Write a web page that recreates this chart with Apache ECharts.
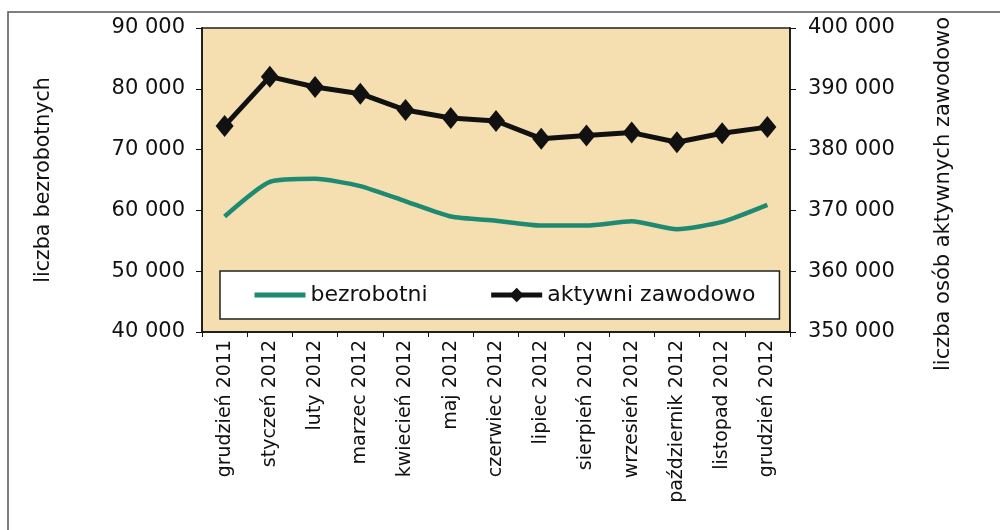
<!DOCTYPE html>
<html>
<head>
<meta charset="utf-8">
<script src="https://cdn.jsdelivr.net/npm/echarts@6/dist/echarts.min.js"></script>
<style>
  html, body { margin: 0; padding: 0; background: #fff; }
  #chart { width: 1000px; height: 530px; }
</style>
</head>
<body>
<div id="chart"></div>
<script>
// miesiące
var months = ['grudzień 2011', 'styczeń 2012', 'luty 2012', 'marzec 2012', 'kwiecień 2012', 'maj 2012',
	'czerwiec 2012', 'lipiec 2012', 'sierpień 2012', 'wrzesień 2012', 'październik 2012', 'listopad 2012', 'grudzień 2012'];

// liczba bezrobotnych (oś lewa)
var bezrobotni = [59000, 64700, 65200, 64000, 61500, 59000, 58300, 57500, 57500, 58200, 56900, 58100, 60900];

// liczba osób aktywnych zawodowo (oś prawa)
var aktywni = [383900, 392000, 390300, 389200, 386500, 385200, 384700, 381800, 382300, 382800, 381200, 382700, 383700];

var leftTicks = [40000, 90000, 10000];
var rightTicks = [350000, 400000, 10000];

function fmt(v) {
	return String(v).replace(/\B(?=(\d{3})+(?!\d))/g, ' ');
}

var font = 'DejaVu Sans';
var myChart = echarts.init(document.getElementById('chart'));

var option = {
	animation: false,
	textStyle: { fontFamily: font, color: '#111' },
	graphic: [{
		type: 'rect',
		shape: { x: 8, y: 12, width: 1100, height: 700 },
		style: { fill: 'none', stroke: '#555', lineWidth: 1.5 },
		z: -10
	}],
	grid: {
		left: 202,
		right: 210,
		top: 28,
		bottom: 198,
		show: true,
		backgroundColor: '#f5deb0',
		borderColor: '#222',
		borderWidth: 1.5
	},
	legend: {
		left: 220,
		top: 271,
		backgroundColor: '#fff',
		borderColor: '#222',
		borderWidth: 1.5,
		padding: [13, 24, 13, 32],
		itemGap: 61,
		itemWidth: 51,
		itemHeight: 18,
		textStyle: { fontFamily: font, fontSize: 22, color: '#111' },
		data: [
			{ name: 'bezrobotni', itemStyle: { opacity: 0 }, lineStyle: { width: 5 } },
			{ name: 'aktywni zawodowo', lineStyle: { width: 5 } }
		]
	},
	xAxis: {
		type: 'category',
		data: months,
		axisLine: { lineStyle: { color: '#111', width: 1.5 } },
		axisTick: { show: true, length: 5, lineStyle: { color: '#111' } },
		axisLabel: { rotate: 90, margin: 8, fontSize: 19, color: '#111', fontFamily: font }
	},
	yAxis: [{
		type: 'value',
		position: 'left',
		min: leftTicks[0],
		max: leftTicks[1],
		interval: leftTicks[2],
		name: 'liczba bezrobotnych',
		nameLocation: 'middle',
		nameGap: 148,
		nameTextStyle: { fontSize: 20.5, color: '#111', fontFamily: font },
		axisLine: { show: true, lineStyle: { color: '#111', width: 1.5 } },
		axisTick: { show: true, length: 6, lineStyle: { color: '#111' } },
		splitLine: { show: false },
		axisLabel: { fontSize: 21, color: '#111', margin: 17, fontFamily: font, formatter: fmt }
	}, {
		type: 'value',
		position: 'right',
		min: rightTicks[0],
		max: rightTicks[1],
		interval: rightTicks[2],
		name: 'liczba osób aktywnych zawodowo',
		nameLocation: 'middle',
		nameGap: 143,
		nameTextStyle: { fontSize: 21, color: '#111', fontFamily: font, padding: [0, 28, 0, 0] },
		axisLine: { show: true, lineStyle: { color: '#111', width: 1.5 } },
		axisTick: { show: true, length: 6, lineStyle: { color: '#111' } },
		splitLine: { show: false },
		axisLabel: { fontSize: 21, color: '#111', margin: 18, fontFamily: font, formatter: fmt }
	}],
	series: [{
		name: 'bezrobotni',
		type: 'line',
		yAxisIndex: 0,
		data: bezrobotni,
		smooth: 0.2,
		showSymbol: false,
		symbol: 'none',
		lineStyle: { color: '#1f8a72', width: 4.5 },
		itemStyle: { color: '#1f8a72' }
	}, {
		name: 'aktywni zawodowo',
		type: 'line',
		yAxisIndex: 1,
		data: aktywni,
		symbol: 'diamond',
		symbolSize: [18, 22],
		lineStyle: { color: '#111', width: 5 },
		itemStyle: { color: '#111' }
	}]
};

myChart.setOption(option);
</script>
</body>
</html>
